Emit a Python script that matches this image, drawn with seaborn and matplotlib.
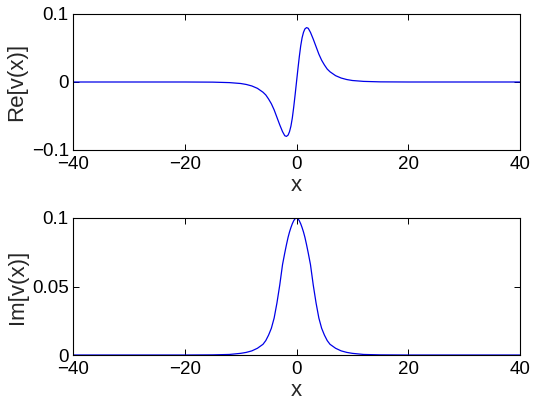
import pandas as pd
import matplotlib
matplotlib.use("Agg")
import matplotlib.pyplot as plt
import seaborn as sns

# values (x >= 0 side, curves are odd / even in x)
x_pos = [0, 0.25, 0.5, 0.75, 1.0, 1.25, 1.5, 1.8, 2.1, 2.5, 3.0, 3.5, 4.0, 4.5,
         5.0, 5.5, 6.0, 7.0, 8.0, 9.0, 10.0, 12.0, 15.0, 20.0, 40.0]
re_pos = [0, 0.019, 0.037, 0.053, 0.065, 0.073, 0.078, 0.080, 0.079, 0.073,
          0.063, 0.052, 0.041, 0.032, 0.025, 0.019, 0.015, 0.0093, 0.0058,
          0.0036, 0.0022, 0.0009, 0.0002, 0, 0]
im_pos = [0.1, 0.0995, 0.098, 0.0958, 0.093, 0.0898, 0.086, 0.0805, 0.0745, 0.066,
          0.051, 0.038, 0.027, 0.0195, 0.0145, 0.0105, 0.0078, 0.0049, 0.003,
          0.0019, 0.0012, 0.0004, 0.0001, 0, 0]

x_ticks = [-40, -20, 0, 20, 40]
re_ticks = [-0.1, 0, 0.1]
im_ticks = [0, 0.05, 0.1]

x_all = [-v for v in x_pos[:0:-1]] + x_pos
re_all = [-v for v in re_pos[:0:-1]] + re_pos
im_all = im_pos[:0:-1] + im_pos
df = pd.DataFrame({"x": x_all, "re": re_all, "im": im_all})

sns.set_style("ticks")
plt.rcParams["font.family"] = ["Liberation Sans", "DejaVu Sans"]
plt.rcParams["axes.linewidth"] = 0.8
plt.rcParams["xtick.direction"] = "in"
plt.rcParams["ytick.direction"] = "in"

fig = plt.figure(figsize=(5.34, 4.05), dpi=100)
ax1 = fig.add_axes([73 / 534, 1 - 150 / 405, 447 / 534, 136 / 405])
ax2 = fig.add_axes([73 / 534, 1 - 355 / 405, 447 / 534, 137 / 405])

sns.lineplot(data=df, x="x", y="re", ax=ax1, color="#0000e8", linewidth=0.9)
sns.lineplot(data=df, x="x", y="im", ax=ax2, color="#0000e8", linewidth=0.9)

for ax, yt, yl, lab, fmt in [
    (ax1, re_ticks, (-0.1, 0.1), "Re[v(x)]", ["\u22120.1", "0", "0.1"]),
    (ax2, im_ticks, (0, 0.1), "Im[v(x)]", ["0", "0.05", "0.1"]),
]:
    ax.set_xlim(-40, 40)
    ax.set_ylim(*yl)
    ax.set_xticks(x_ticks)
    ax.set_xticklabels(["\u221240", "\u221220", "0", "20", "40"])
    ax.set_yticks(yt)
    ax.set_yticklabels(fmt)
    ax.tick_params(axis="both", labelsize=13.5, length=4, width=0.7,
                   top=True, right=True, colors="black")
    ax.tick_params(axis="x", pad=4)
    ax.tick_params(axis="y", pad=3)
    ax.set_xlabel("x", fontsize=16, labelpad=2)
    ax.set_ylabel(lab, fontsize=16, labelpad=3)
    for s in ax.spines.values():
        s.set_visible(True)
        s.set_color("black")

fig.savefig("out.png", dpi=100)
